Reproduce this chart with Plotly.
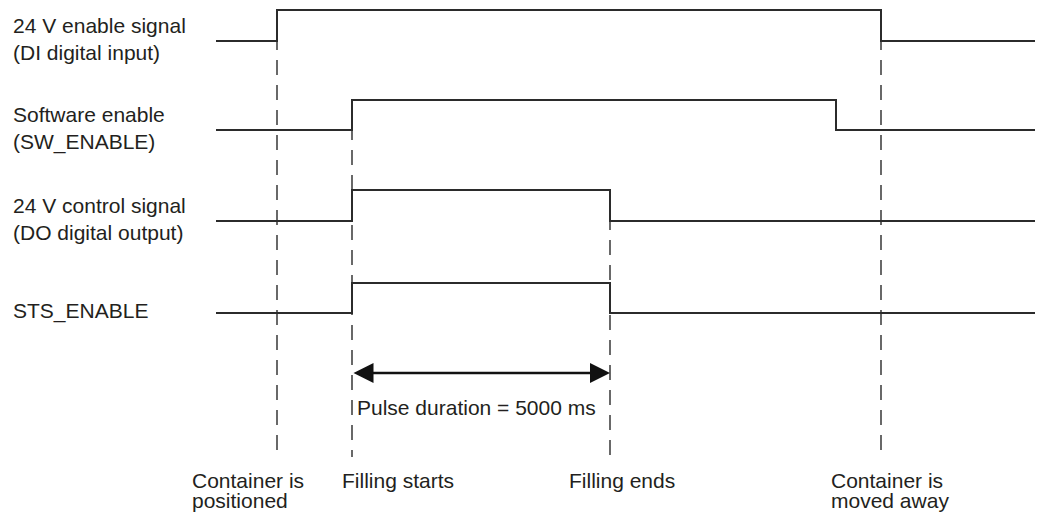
import plotly.graph_objects as go

# ---- data ----
signal_labels = [
    "24 V enable signal<br>(DI digital input)",
    "Software enable<br>(SW_ENABLE)",
    "24 V control signal<br>(DO digital output)",
    "STS_ENABLE",
]
signal_low = [41, 130, 221, 313]
signal_high = [10, 100, 190, 283]
signal_edges = [[277, 881], [352, 836], [352, 610], [352, 610]]
t_begin, t_finish = 216, 1035

event_labels = [
    ["Container is", "positioned"],
    ["Filling starts"],
    ["Filling ends"],
    ["Container is", "moved away"],
]
event_times = [277, 352, 610, 881]
event_top = [10, 100, 190, 10]
marker_bottom = 457

pulse_label = "Pulse duration = 5000 ms"
pulse_from, pulse_to = 352, 610
pulse_level = 373

# ---- layout helpers (positions / styles) ----
event_label_x = [190, 340, 567, 829]
event_line_y = [467, 487]
FONT = "Liberation Sans, Arial, sans-serif"
FS = 21
TXT = "#231f20"
LINE = "#2b2b2b"

fig = go.Figure()

# dashed event markers (drawn first, under signals)
for t, top in zip(event_times, event_top):
    fig.add_trace(go.Scatter(
        x=[t, t], y=[top, marker_bottom], mode="lines",
        line=dict(color="#444444", width=1.6, dash="15px,10px"),
        hoverinfo="skip"))

# signals
for low, high, edges in zip(signal_low, signal_high, signal_edges):
    xs = [t_begin]
    ys = [low]
    state = low
    for e in edges:
        state = high if state == low else low
        xs.append(e)
        ys.append(state)
    xs.append(t_finish)
    ys.append(state)
    fig.add_trace(go.Scatter(
        x=xs, y=ys, mode="lines", line_shape="hv",
        line=dict(color=LINE, width=2), hoverinfo="skip"))

# signal labels
for lab, low in zip(signal_labels, signal_low):
    fig.add_annotation(
        x=11, y=low - 2, xref="x", yref="y", text=lab, showarrow=False,
        xanchor="left", yanchor="middle", align="left",
        font=dict(family=FONT, size=FS, color=TXT))

# event labels (line by line for tighter spacing)
for lines, lx in zip(event_labels, event_label_x):
    for line_text, ly in zip(lines, event_line_y):
        fig.add_annotation(
            x=lx, y=ly, xref="x", yref="y", text=line_text, showarrow=False,
            xanchor="left", yanchor="top", align="left",
            font=dict(family=FONT, size=FS, color=TXT))

# pulse duration arrow
fig.add_annotation(
    x=pulse_to, y=pulse_level, ax=pulse_from, ay=pulse_level,
    xref="x", yref="y", axref="x", ayref="y", text="",
    showarrow=True, arrowside="end+start", arrowhead=2,
    arrowsize=1.6, arrowwidth=2.5, arrowcolor="#111111")
fig.add_annotation(
    x=355, y=407, xref="x", yref="y", text=pulse_label, showarrow=False,
    xanchor="left", yanchor="middle",
    font=dict(family=FONT, size=FS, color=TXT))

fig.update_layout(
    width=1049, height=517,
    margin=dict(l=0, r=0, t=0, b=0),
    paper_bgcolor="white", plot_bgcolor="white",
    showlegend=False,
    xaxis=dict(range=[0, 1049], visible=False, fixedrange=True),
    yaxis=dict(range=[517, 0], visible=False, fixedrange=True),
)

fig.write_html(
    "out.html",
    config={"displayModeBar": False},
    post_script="document.body.style.margin='0px';document.body.style.overflow='hidden';",
)
